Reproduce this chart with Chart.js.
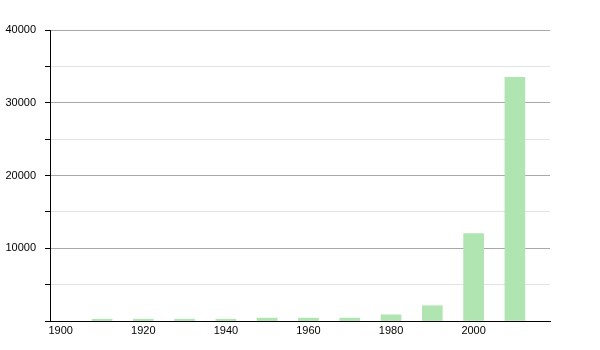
<!DOCTYPE html>
<html>
<head>
<meta charset="utf-8">
<script src="https://cdn.jsdelivr.net/npm/chart.js@4"></script>
<style>
  html, body { margin: 0; padding: 0; background: #fff; }
  #wrap { width: 600px; height: 350px; }
</style>
</head>
<body>
<div id="wrap"><canvas id="barChart"></canvas></div>
<script>
const years = [1910, 1920, 1930, 1940, 1950, 1960, 1970, 1980, 1990, 2000, 2010];
const population = [250, 250, 250, 250, 400, 400, 400, 850, 2100, 12000, 33500];
const xTicks = [1900, 1920, 1940, 1960, 1980, 2000];
const yMajor = [10000, 20000, 30000, 40000];

document.addEventListener("DOMContentLoaded", function () {
  const points = years.map((year, i) => ({ x: year, y: population[i] }));
  const ctx = document.getElementById("barChart");

  new Chart(ctx, {
    type: "bar",
    data: {
      datasets: [
        {
          data: points,
          backgroundColor: "#b0e4b0",
          borderWidth: 0,
          barThickness: 20,
        },
      ],
    },
    options: {
      responsive: true,
      maintainAspectRatio: false,
      animation: false,
      layout: {
        padding: { top: 30, right: 50, left: 0, bottom: 0 },
      },
      scales: {
        x: {
          type: "linear",
          offset: false,
          min: 1897.4,
          max: 2018.5,
          afterBuildTicks: function (scale) {
            scale.ticks = xTicks.map((v) => ({ value: v }));
          },
          afterFit: function (scale) {
            scale.height = 29;
          },
          grid: {
            color: "rgba(0,0,0,0)",
            drawTicks: false,
            offset: false,
          },
          border: { display: true, color: "#000", width: 1 },
          ticks: {
            padding: 3,
            maxRotation: 0,
            autoSkip: false,
            color: "#000",
            font: { family: "Liberation Sans", size: 11 },
            callback: function (value) {
              return String(value);
            },
          },
        },
        y: {
          min: 0,
          max: 40000,
          afterFit: function (scale) {
            scale.width = 50;
          },
          grid: {
            color: function (c) {
              return c.tick && c.tick.value % 10000 === 0 ? "#a8a8a8" : "#e2e2e2";
            },
            tickColor: "#000",
            tickLength: 5,
          },
          border: { display: true, color: "#000", width: 1 },
          ticks: {
            stepSize: 5000,
            padding: 9,
            color: "#000",
            font: { family: "Liberation Sans", size: 11 },
            callback: function (value) {
              return yMajor.includes(value) ? String(value) : "";
            },
          },
        },
      },
      plugins: {
        legend: { display: false },
        tooltip: { enabled: false },
      },
    },
  });
});
</script>
</body>
</html>
